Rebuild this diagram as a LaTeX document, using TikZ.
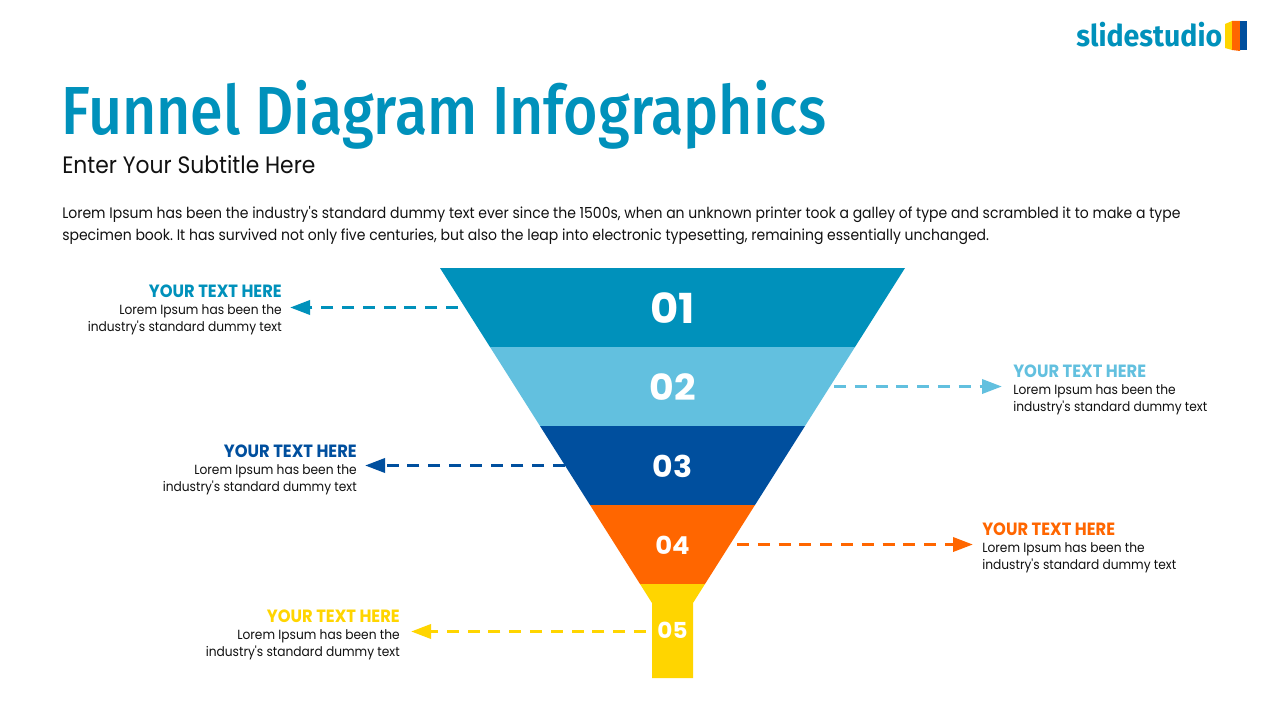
\documentclass[tikz,border=0pt]{standalone}
\usepackage{fontspec}
\setmainfont{Poppins}[FakeStretch=0.92,Ligatures=TeXOff]
\newfontfamily\titlefont{Fira Sans Medium}[FakeStretch=0.869]
\newfontfamily\logofont{Fira Sans}[BoldFont={Fira Sans Bold},FakeStretch=0.95]
\newfontfamily\numfont{Poppins}[BoldFont={Poppins Bold},FakeStretch=1.05]
\usetikzlibrary{arrows.meta}
\definecolor{cone}{HTML}{0091BB}
\definecolor{ctwo}{HTML}{62C0DF}
\definecolor{cthree}{HTML}{004F9E}
\definecolor{cfour}{HTML}{FF6600}
\definecolor{cfive}{HTML}{FFD500}
\definecolor{ink}{HTML}{111111}
\tikzset{
 x=0.75pt,y=-0.75pt,
 num/.style={text=white,inner sep=0,anchor=center},
 head/.style={font=\fontsize{13.3pt}{15pt}\selectfont\bfseries,inner sep=0},
 desc/.style={font=\frenchspacing\fontsize{9.96pt}{12.9pt}\selectfont,inner sep=0,text=ink},
 bodyline/.style={anchor=base west,inner sep=0,text=ink,font=\frenchspacing\fontsize{11.42pt}{14pt}\selectfont},
 link/.style={line width=2.6pt,dash pattern=on 9pt off 6.6pt,-{Triangle[length=15pt,width=10.5pt,sep=0pt]}},
}
\begin{document}
\begin{tikzpicture}
\useasboundingbox (0,0) rectangle (1280,720);
\fill[white] (0,0) rectangle (1280,720);
% title block
\node[anchor=base west,inner sep=0,text=cone,font=\titlefont\fontsize{51pt}{56pt}\selectfont] (title) at (61,135) {Funnel Diagram Infographics};
\node[anchor=base west,inner sep=0,text=ink,font=\fontsize{17.8pt}{20pt}\selectfont] (subtitle) at (62,173.7) {Enter Your Subtitle Here};
\node[bodyline] (bodya) at (62,219) {Lorem Ipsum has been the industry's standard dummy text ever since the 1500s, when an unknown printer took a galley of type and scrambled it to make a type};
\node[bodyline] (bodyb) at (62,241) {specimen book. It has survived not only five centuries, but also the leap into electronic typesetting, remaining essentially unchanged.};
% logo
\node[anchor=base west,inner sep=0,text=cone,font=\logofont\bfseries\fontsize{22.5pt}{24pt}\selectfont] (logo) at (1076,47) {slidestudio};
\fill[cfive] (1225,24) -- (1232,21) -- (1232,50) -- (1225,48) -- cycle;
\fill[cfour] (1232,21) -- (1240,21) -- (1240,51) -- (1232,50) -- cycle;
\fill[cthree] (1240,21) -- (1247,21) -- (1247,50) -- (1240,50) -- cycle;
% funnel
\fill[cone] (440,268) -- (905,268) -- (855,347) -- (490,347) -- cycle;
\fill[ctwo] (490,347) -- (855,347) -- (805,426) -- (540,426) -- cycle;
\fill[cthree] (540,426) -- (805,426) -- (755,505) -- (590,505) -- cycle;
\fill[cfour] (590,505) -- (755,505) -- (705,584) -- (640,584) -- cycle;
\fill[cfive] (640,584) -- (705,584) -- (693,603) -- (693,678) -- (652,678) -- (652,603) -- cycle;
\node[num,font=\numfont\bfseries\fontsize{31pt}{34pt}\selectfont] (n1) at (672.5,308) {01};
\node[num,font=\numfont\bfseries\fontsize{27pt}{30pt}\selectfont] (n2) at (672.5,387) {02};
\node[num,font=\numfont\bfseries\fontsize{22.5pt}{26pt}\selectfont] (n3) at (672.5,466) {03};
\node[num,font=\numfont\bfseries\fontsize{18.5pt}{22pt}\selectfont] (n4) at (672.5,545) {04};
\node[num,font=\numfont\bfseries\fontsize{16.5pt}{20pt}\selectfont] (n5) at (672.5,630.5) {05};
% labels
\node[head,anchor=base east,text=cone] (h1) at (282,297.5) {YOUR TEXT HERE};
\node[desc,anchor=north east,align=right] (d1) at (282,304) {Lorem Ipsum has been the\\industry's standard dummy text};
\node[head,anchor=base west,text=ctwo] (h2) at (1013,377.5) {YOUR TEXT HERE};
\node[desc,anchor=north west,align=left] (d2) at (1013,384) {Lorem Ipsum has been the\\industry's standard dummy text};
\node[head,anchor=base east,text=cthree] (h3) at (357,457.5) {YOUR TEXT HERE};
\node[desc,anchor=north east,align=right] (d3) at (357,464) {Lorem Ipsum has been the\\industry's standard dummy text};
\node[head,anchor=base west,text=cfour] (h4) at (982,535.5) {YOUR TEXT HERE};
\node[desc,anchor=north west,align=left] (d4) at (982,542) {Lorem Ipsum has been the\\industry's standard dummy text};
\node[head,anchor=base east,text=cfive] (h5) at (400,622.5) {YOUR TEXT HERE};
\node[desc,anchor=north east,align=right] (d5) at (400,629) {Lorem Ipsum has been the\\industry's standard dummy text};
% connectors
\coordinate (s1) at (458,307.5); \coordinate (e1) at (290,307.5);
\coordinate (s2) at (834,386.5); \coordinate (e2) at (1002,386.5);
\coordinate (s3) at (565,465.5); \coordinate (e3) at (365,465.5);
\coordinate (s4) at (737,544.5); \coordinate (e4) at (973,544.5);
\coordinate (s5) at (646,631.5); \coordinate (e5) at (411,631.5);
\draw[link,cone] (s1) -- (e1);
\draw[link,ctwo] (s2) -- (e2);
\draw[link,cthree] (s3) -- (e3);
\draw[link,cfour] (s4) -- (e4);
\draw[link,cfive] (s5) -- (e5);
\end{tikzpicture}
\end{document}
